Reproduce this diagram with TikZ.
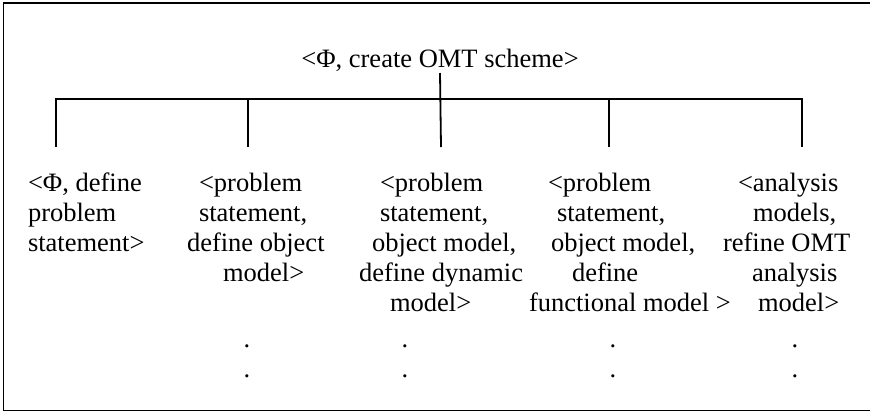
\documentclass[tikz,border=0pt]{standalone}
\usepackage{fontspec}
\setmainfont{Liberation Serif}
\newcommand{\ind}[1]{\hspace*{#1pt}}
\begin{document}
\begin{tikzpicture}[x=1pt,y=-1pt,
  lbl/.style={font=\fontsize{26.5}{30}\selectfont, inner sep=0pt, outer sep=0pt},
  col/.style={lbl, align=left, anchor=north west},
  dotmark/.style={lbl, anchor=base},
  link/.style={line width=1.8pt},
  frame/.style={line width=1.8pt}]
\useasboundingbox (0,0) rectangle (870,413);
% frame (open on the right)
\draw[frame] (870,3) -- (3.5,3) -- (3.5,410.5) -- (870,410.5);
% root
\node[lbl, anchor=base] (root) at (440,67) {<Φ, create OMT scheme>};
% children (first baseline at y = 191, line pitch 30)
\node[col] (c1) at (28,171)
  {\rule{0pt}{20pt}<Φ, define\\problem\\statement>};
\node[col] (c2) at (187,171)
  {\rule{0pt}{20pt}\ind{12}<problem\\\ind{12}statement,\\define object\\\ind{36}model>};
\node[col] (c3) at (359,171)
  {\rule{0pt}{20pt}\ind{21}<problem\\\ind{21}statement,\\\ind{13}object model,\\define dynamic\\\ind{31}model>};
\node[col] (c4) at (529,171)
  {\rule{0pt}{20pt}\ind{19}<problem\\\ind{28}statement,\\\ind{22}object model,\\\ind{43}define\\functional model >};
\node[col] (c5) at (723,171)
  {\rule{0pt}{20pt}\ind{15}<analysis\\\ind{30}models,\\refine OMT\\\ind{29}analysis\\\ind{35}model>};
% drop ends
\coordinate (t1) at (56,147);
\coordinate (t2) at (248,147);
\coordinate (t3) at (441,147);
\coordinate (t4) at (609,147);
\coordinate (t5) at (802,147);
\coordinate (bar) at (441,99);
% connectors
\draw[link] ([yshift=-6pt]root.base) -- (t3);
\draw[link] (t1) -- (t1 |- bar) -- (t5 |- bar) -- (t5);
\draw[link] (t2) -- (t2 |- bar);
\draw[link] (t4) -- (t4 |- bar);
% continuation dots
\node[dotmark] (d2a) at (247,347) {.};
\node[dotmark] (d2b) at (247,377) {.};
\node[dotmark] (d3a) at (405,347) {.};
\node[dotmark] (d3b) at (405,377) {.};
\node[dotmark] (d4a) at (613,347) {.};
\node[dotmark] (d4b) at (613,377) {.};
\node[dotmark] (d5a) at (795,347) {.};
\node[dotmark] (d5b) at (795,377) {.};
\end{tikzpicture}
\end{document}
